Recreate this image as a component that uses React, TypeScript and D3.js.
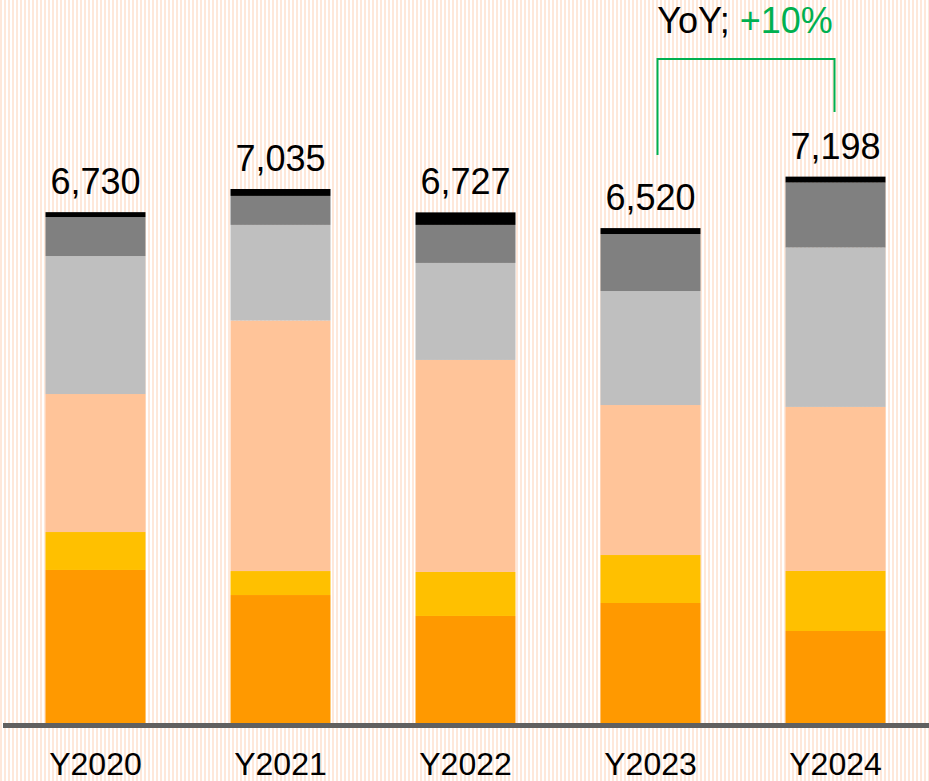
import React from "react";
import * as d3 from "d3";

const years = ["Y2020", "Y2021", "Y2022", "Y2023", "Y2024"];
const totals = [6730, 7035, 6727, 6520, 7198];
// stacked segments, bottom to top
const seriesOrange = [2016, 1686, 1410, 1581, 1212];
const seriesYellow = [500, 316, 580, 632, 791];
const seriesPeach = [1818, 3300, 2793, 1976, 2161];
const seriesLightGray = [1818, 1260, 1278, 1502, 2100];
const seriesDarkGray = [514, 382, 501, 751, 856];
const seriesBlack = [64, 91, 165, 78, 78];
const seriesColors = ["#FF9900", "#FFC000", "#FFC499", "#BFBFBF", "#808080", "#000000"];
const yoyLabel = "YoY; ";
const yoyValue = "+10%";

const W = 929;
const H = 781;

export default function App() {
  const series = [seriesOrange, seriesYellow, seriesPeach, seriesLightGray, seriesDarkGray, seriesBlack];
  const x = d3.scaleBand<string>().domain(years).range([1, 930]).paddingInner(0.4595).paddingOuter(0.2405);
  const y = d3.scaleLinear().domain([0, 9525]).range([723, 0]);
  const fmt = d3.format(",");
  const rows = years.map((yr, i) => {
    const r: any = { year: yr };
    series.forEach((s, k) => (r["s" + k] = s[i]));
    return r;
  });
  const stack = d3.stack<any>().keys(series.map((_, k) => "s" + k))(rows);
  const bw = x.bandwidth();
  const cx = (i: number) => (x(years[i]) as number) + bw / 2;
  const x3 = cx(3);
  const x4 = cx(4);
  return (
    <svg width={W} height={H} style={{ position: "absolute", left: 0, top: 0 }} fontFamily="'Liberation Sans', Arial, sans-serif">
      <defs>
        <pattern id="stripes" width={4} height={4} patternUnits="userSpaceOnUse">
          <rect width={4} height={4} fill="#ffffff" />
          <rect width={2} height={4} fill="#FEE8DA" />
        </pattern>
      </defs>
      <rect width={W} height={H} fill="url(#stripes)" />
      {stack.map((layer, k) => (
        <g key={k} fill={seriesColors[k]}>
          {layer.map((d, i) => (
            <rect key={i} x={x(years[i])} width={bw} y={y(d[1])} height={y(d[0]) - y(d[1])} />
          ))}
        </g>
      ))}
      <line x1={3} x2={W} y1={725.5} y2={725.5} stroke="#606060" strokeWidth={5} />
      {years.map((yr, i) => (
        <text key={yr} x={cx(i)} y={775} textAnchor="middle" fontSize={32} fill="#000">
          {yr}
        </text>
      ))}
      {totals.map((t, i) => (
        <text key={i} x={cx(i)} y={y(t) - 18} textAnchor="middle" fontSize={36} fill="#000">
          {fmt(t)}
        </text>
      ))}
      <path
        d={`M${x3 + 7},${y(totals[3]) - 73} V59 H${x4 - 1} V112`}
        fill="none"
        stroke="#00B050"
        strokeWidth={2}
      />
      <text x={(x3 + x4) / 2 + 2} y={33} textAnchor="middle" fontSize={36}>
        <tspan fill="#000">{yoyLabel}</tspan>
        <tspan fill="#00B050">{yoyValue}</tspan>
      </text>
    </svg>
  );
}
